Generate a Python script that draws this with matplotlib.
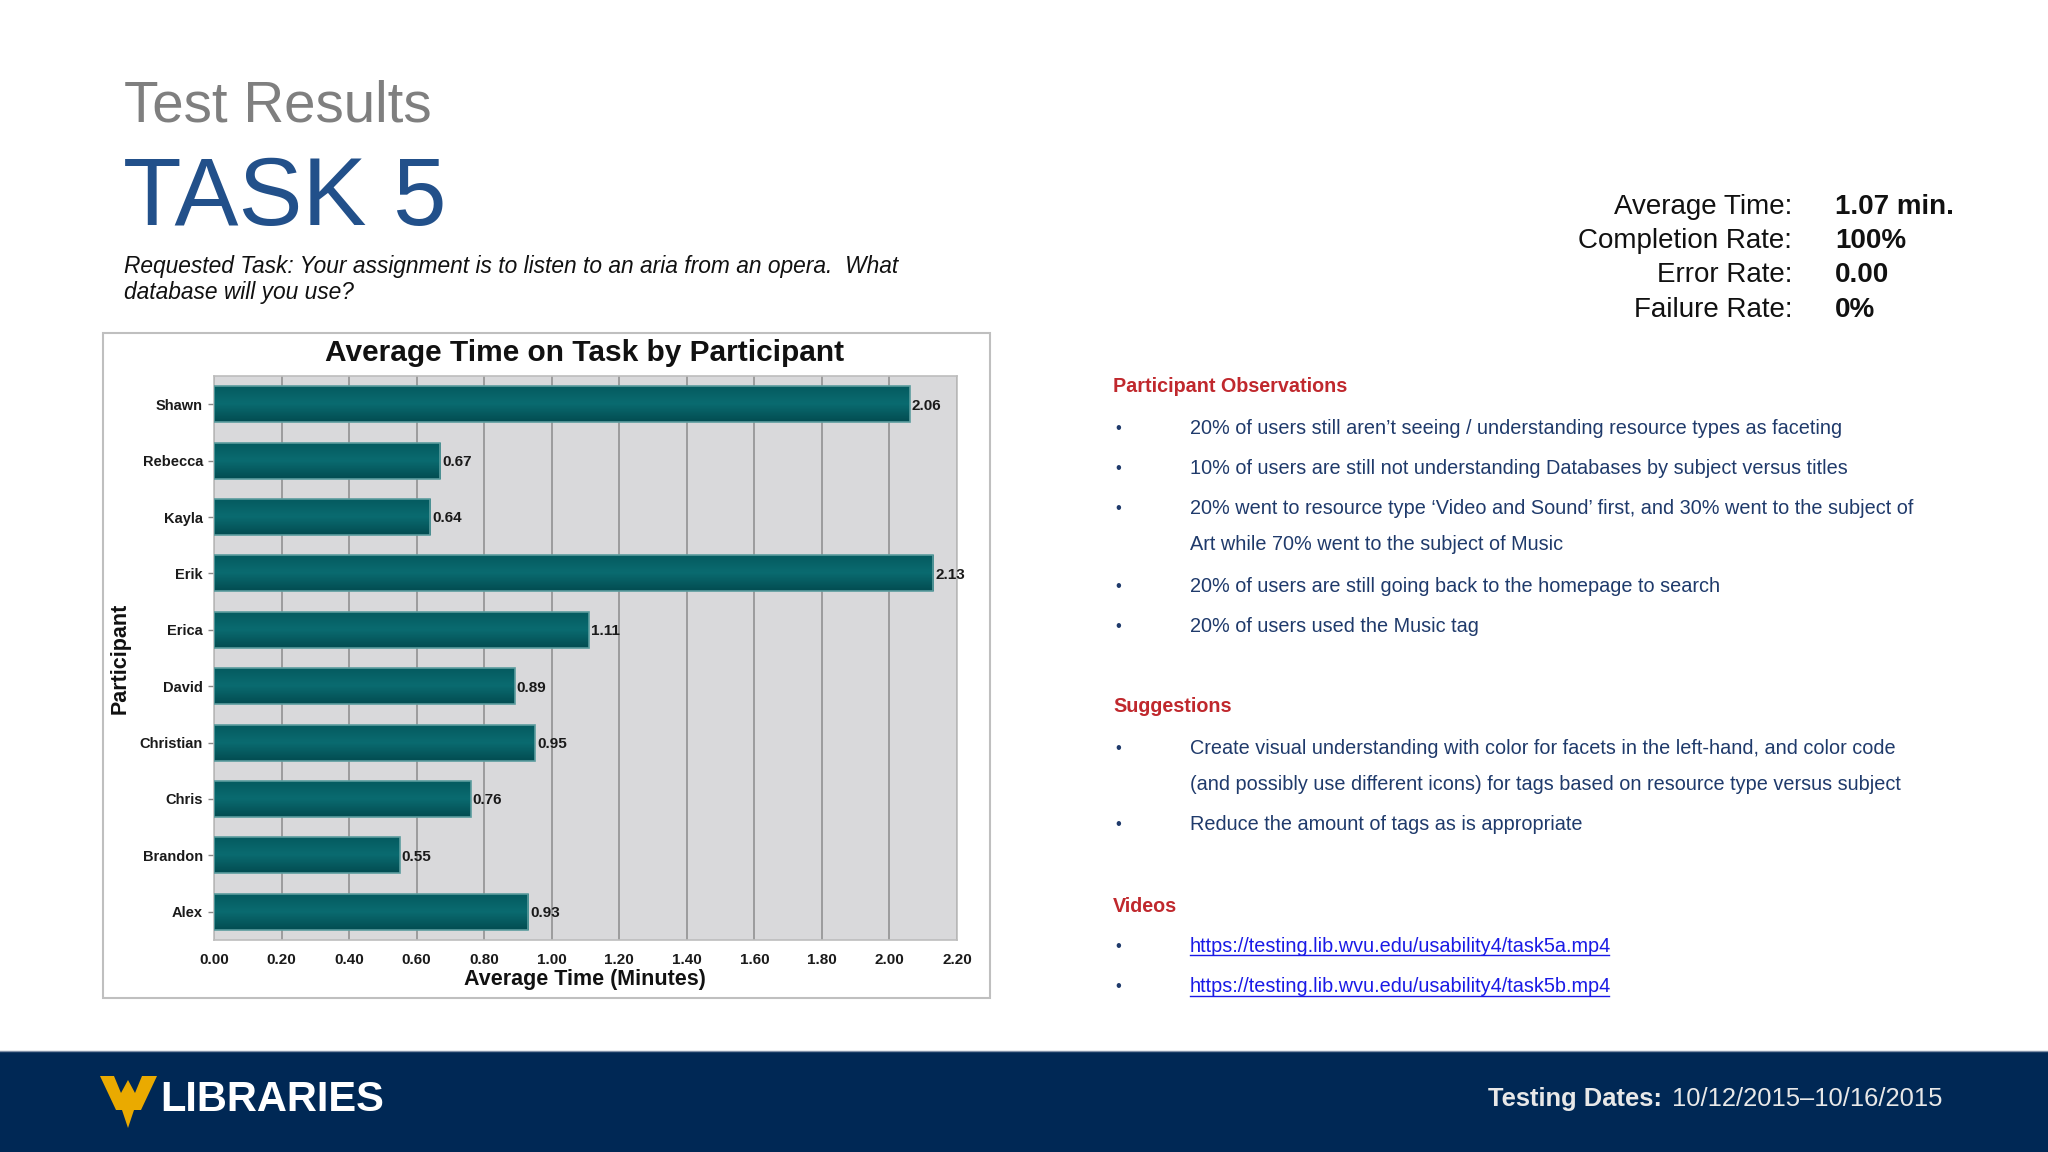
import numpy as np
import matplotlib
matplotlib.use("Agg")
import matplotlib.pyplot as plt
from matplotlib.patches import Rectangle, Polygon
from matplotlib.lines import Line2D

plt.rcParams['font.family'] = ['Liberation Sans', 'DejaVu Sans']

# ---------------- data ----------------
participants = ["Shawn", "Rebecca", "Kayla", "Erik", "Erica", "David",
                "Christian", "Chris", "Brandon", "Alex"]
avg_minutes = [2.06, 0.67, 0.64, 2.13, 1.11, 0.89, 0.95, 0.76, 0.55, 0.93]
x_ticks = [0.0, 0.2, 0.4, 0.6, 0.8, 1.0, 1.2, 1.4, 1.6, 1.8, 2.0, 2.2]

stat_labels = ["Average Time:", "Completion Rate:", "Error Rate:", "Failure Rate:"]
stat_values = ["1.07 min.", "100%", "0.00", "0%"]

observations = [
    ["20% of users still aren\u2019t seeing / understanding resource types as faceting"],
    ["10% of users are still not understanding Databases by subject versus titles"],
    ["20% went to resource type \u2018Video and Sound\u2019 first, and 30% went to the subject of",
     "Art while 70% went to the subject of Music"],
    ["20% of users are still going back to the homepage to search"],
    ["20% of users used the Music tag"],
]
suggestions = [
    ["Create visual understanding with color for facets in the left-hand, and color code",
     "(and possibly use different icons) for tags based on resource type versus subject"],
    ["Reduce the amount of tags as is appropriate"],
]
videos = ["https://testing.lib.wvu.edu/usability4/task5a.mp4",
          "https://testing.lib.wvu.edu/usability4/task5b.mp4"]

# ---------------- figure ----------------
W, H = 2048, 1152
fig = plt.figure(figsize=(W / 100, H / 100), dpi=100)
fig.patch.set_facecolor("white")


def fx(x):
    return x / W


def fy(y):
    return 1 - y / H


# Header texts
fig.text(fx(124), fy(106), "Test Results", fontsize=40.7, color="#7F7F7F",
         ha="left", va="center")
fig.text(fx(123), fy(200), "TASK 5", fontsize=69, color="#22508A",
         ha="left", va="center")
fig.text(fx(124), fy(266), "Requested Task: Your assignment is to listen to an aria from an opera.  What",
         fontsize=16.4, style="italic", color="#111111", ha="left", va="center")
fig.text(fx(124), fy(293), "database will you use?",
         fontsize=16.4, style="italic", color="#111111", ha="left", va="center")

# Stats
stat_y = [207, 241, 275, 310]
for lab, val, y in zip(stat_labels, stat_values, stat_y):
    fig.text(fx(1792), fy(y), lab, fontsize=20, color="#111111", ha="right", va="center")
    fig.text(fx(1835), fy(y), val, fontsize=20, color="#111111", weight="bold",
             ha="left", va="center")

# Chart frame
frame = Rectangle((fx(103), fy(998)), fx(990) - fx(103), fy(333) - fy(998),
                  transform=fig.transFigure, facecolor="white",
                  edgecolor="#BFBFBF", linewidth=1.5, zorder=-5)
fig.patches.append(frame)

ax = fig.add_axes([fx(214), fy(940), fx(957) - fx(214), fy(376) - fy(940)])
ax.set_zorder(5)
ax.set_facecolor("#D9D9DB")
for s in ax.spines.values():
    s.set_color("#BDBDBD")
    s.set_linewidth(1.2)

ypos = np.arange(len(participants))
bar_h = 0.64
grad = np.linspace(0, 1, 64)[:, None]
cmap = matplotlib.colors.LinearSegmentedColormap.from_list(
    "teal", ["#045A5F", "#0A6B70", "#034C51"])
bars = ax.barh(ypos, avg_minutes, height=bar_h, color="#05616A",
               edgecolor="#5B9C9E", linewidth=1.2, zorder=3)
for b in bars:
    x0, y0 = b.get_x(), b.get_y()
    w, h = b.get_width(), b.get_height()
    im = ax.imshow(grad, extent=[x0, x0 + w, y0 + h, y0], aspect="auto",
                   cmap=cmap, zorder=3.5, interpolation="bicubic")
    im.set_clip_path(b)
    b.set_facecolor("none")
    b.set_zorder(4)

for yv, v in zip(ypos, avg_minutes):
    ax.annotate(f"{v:.2f}", xy=(v, yv), xytext=(1.5, -1), textcoords="offset points",
                ha="left", va="center", fontsize=11, color="#1A1A1A", weight="bold",
                zorder=5)

ax.set_xlim(0, 2.2)
ax.set_ylim(len(participants) - 0.5, -0.5)
ax.set_xticks(x_ticks)
ax.set_xticklabels([f"{t:.2f}" for t in x_ticks], fontsize=11, weight="bold",
                   color="#1A1A1A")
ax.set_yticks(ypos)
ax.set_yticklabels(participants, fontsize=10.5, weight="bold", color="#1A1A1A")
ax.tick_params(axis="x", length=0, pad=9)
ax.tick_params(axis="y", length=4, color="#888888", width=1, pad=4)
ax.xaxis.grid(True, color="#8C8C8C", linewidth=1.1, zorder=1)
ax.set_axisbelow(True)

fig.text(fx(585), fy(353), "Average Time on Task by Participant", fontsize=21.5,
         weight="bold", color="#111111", ha="center", va="center")
fig.text(fx(585), fy(979), "Average Time (Minutes)", fontsize=15.5,
         weight="bold", color="#111111", ha="center", va="center")
fig.text(fx(120), fy(658), "Participant", fontsize=15.5, weight="bold",
         color="#111111", ha="center", va="center", rotation=90)

# Right-hand notes
red = "#C0282D"
navy = "#1F3A6B"
bx, tx, hx = 1115, 1190, 1113
fs = 14.3
dy = 3


def heading(y, s):
    fig.text(fx(hx), fy(y + dy), s, fontsize=14.2, weight="bold", color=red,
             ha="left", va="center")


def bullet_block(items, ys):
    i = 0
    for item in items:
        fig.text(fx(bx), fy(ys[i] + dy), "\u2022", fontsize=12, color=navy,
                 ha="left", va="center")
        for line in item:
            fig.text(fx(tx), fy(ys[i] + dy), line, fontsize=fs, color=navy,
                     ha="left", va="center")
            i += 1


heading(384, "Participant Observations")
bullet_block(observations, [425, 465, 506, 541, 583, 623])
heading(704, "Suggestions")
bullet_block(suggestions, [745, 781, 822])
heading(903, "Videos")

link_texts = []
for url, y in zip(videos, [943, 984]):
    fig.text(fx(bx), fy(y + dy), "\u2022", fontsize=12, color=navy, ha="left", va="center")
    t = fig.text(fx(tx), fy(y + dy), url, fontsize=fs, color="#1A1AE6", ha="left", va="center")
    link_texts.append(t)

# Footer
fig.patches.append(Rectangle((0, 0), 1, fy(1051), transform=fig.transFigure,
                             facecolor="#002855", edgecolor="none", zorder=0))
fig.lines.append(Line2D([0, 1], [fy(1051), fy(1051)], transform=fig.transFigure,
                        color="#8090A8", linewidth=1.0))
logo = [(100, 1076), (114, 1076), (121, 1093), (128, 1080), (135, 1093), (142, 1076),
        (157, 1076), (141, 1110), (134, 1110), (128, 1128), (122, 1110), (116, 1110)]
fig.patches.append(Polygon([(fx(x), fy(y)) for x, y in logo], closed=True,
                           transform=fig.transFigure, facecolor="#EAAA00",
                           edgecolor="none", zorder=2))
fig.text(fx(160), fy(1100), "LIBRARIES", fontsize=30, weight="bold",
         color="white", ha="left", va="center")
fig.text(fx(1488), fy(1099), "Testing Dates:", fontsize=18.4, weight="bold",
         color="#E8E8E8", ha="left", va="center")
fig.text(fx(1672), fy(1099), "10/12/2015\u201310/16/2015", fontsize=18.4,
         color="#E8E8E8", ha="left", va="center")

# underline links
fig.canvas.draw()
r = fig.canvas.get_renderer()
for t in link_texts:
    bb = t.get_window_extent(r)
    yb = bb.y0 + 1
    fig.lines.append(Line2D([bb.x0 / W, (bb.x1 - 2) / W], [yb / H, yb / H],
                            transform=fig.transFigure, color="#1A1AE6", linewidth=1.0))

fig.savefig("out.png", dpi=100, facecolor="white")
